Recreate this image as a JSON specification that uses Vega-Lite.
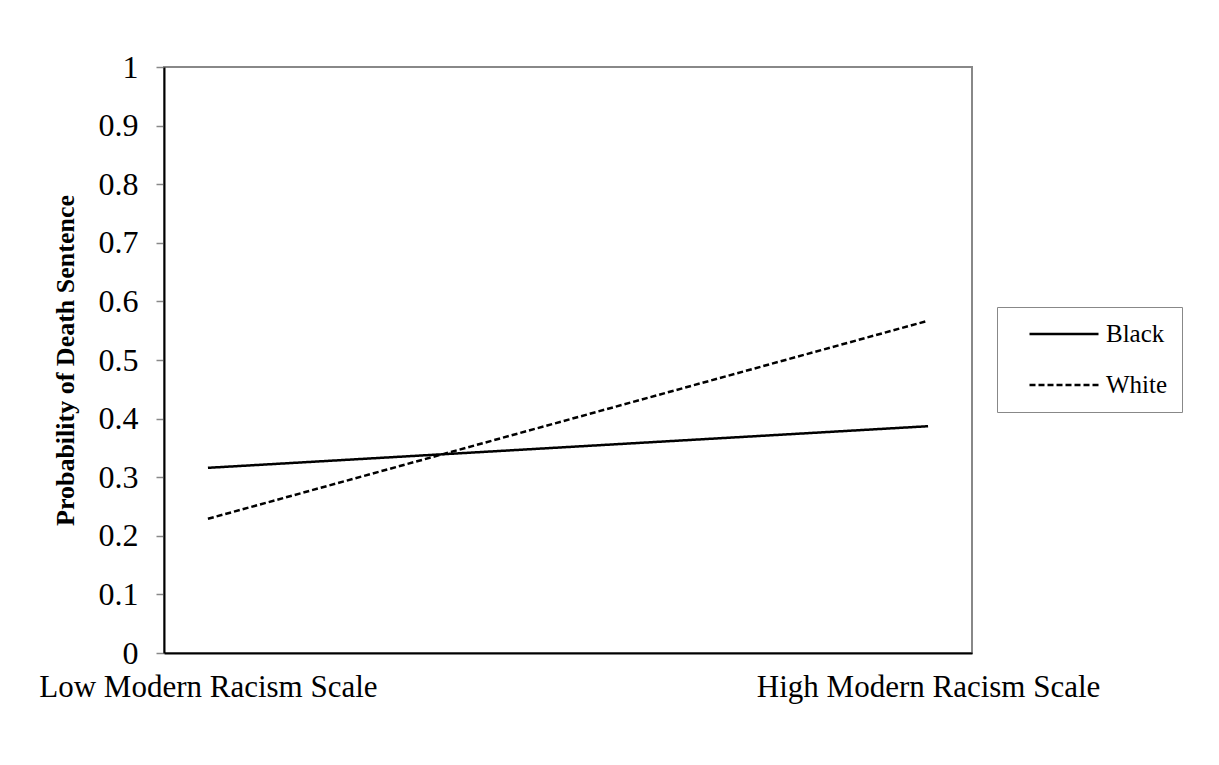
{
  "$schema": "https://vega.github.io/schema/vega-lite/v6.json",
  "width": 808,
  "height": 586,
  "autosize": {"type": "none"},
  "padding": {"left": 164, "top": 67, "right": 247, "bottom": 112},
  "background": "white",
  "data": {
    "values": [
      {"level": "Low Modern Racism Scale", "race": "Black", "p": 0.316},
      {"level": "High Modern Racism Scale", "race": "Black", "p": 0.387},
      {"level": "Low Modern Racism Scale", "race": "White", "p": 0.229},
      {"level": "High Modern Racism Scale", "race": "White", "p": 0.567}
    ]
  },
  "mark": {"type": "line", "color": "black", "strokeWidth": 2.5},
  "encoding": {
    "x": {
      "field": "level",
      "type": "nominal",
      "sort": ["Low Modern Racism Scale", "High Modern Racism Scale"],
      "scale": {"type": "point", "padding": 0.061},
      "axis": {
        "title": null,
        "labelAngle": 0,
        "ticks": false,
        "domainColor": "black",
        "domainWidth": 2,
        "labelFont": "Liberation Serif",
        "labelFontSize": 31,
        "labelColor": "black",
        "labelPadding": 19,
        "labelBaseline": "top",
        "labelLimit": 1000,
        "labelOverlap": false
      }
    },
    "y": {
      "field": "p",
      "type": "quantitative",
      "scale": {"domain": [0, 1], "nice": false, "zero": true},
      "axis": {
        "title": "Probability of Death Sentence",
        "titleFont": "Liberation Serif",
        "titleFontSize": 26,
        "titleFontWeight": "bold",
        "titleColor": "black",
        "titlePadding": 20,
        "values": [0, 0.1, 0.2, 0.3, 0.4, 0.5, 0.6, 0.7, 0.8, 0.9, 1],
        "labelExpr": "datum.value === 0 ? '0' : datum.value === 1 ? '1' : format(datum.value, '.1f')",
        "grid": false,
        "domainColor": "black",
        "domainWidth": 2,
        "tickColor": "#888888",
        "tickWidth": 1.5,
        "tickSize": 8,
        "labelFont": "Liberation Serif",
        "labelFontSize": 32,
        "labelColor": "black",
        "labelPadding": 18
      }
    },
    "strokeDash": {
      "field": "race",
      "type": "nominal",
      "scale": {"domain": ["Black", "White"], "range": [[1, 0], [6, 3]]},
      "legend": {
        "title": null,
        "orient": "none",
        "legendX": 833,
        "legendY": 240,
        "strokeColor": "#888888",
        "padding": 14,
        "symbolType": "M-3,0H3",
        "symbolSize": 529,
        "symbolStrokeWidth": 2.5,
        "symbolStrokeColor": "black",
        "symbolOffset": 40,
        "labelOffset": 29,
        "labelExpr": "datum.label + '\u2002\u2005'",
        "labelFont": "Liberation Serif",
        "labelFontSize": 25,
        "labelColor": "black",
        "rowPadding": 25
      }
    }
  },
  "config": {
    "view": {"stroke": "#888888", "strokeWidth": 2}
  }
}
